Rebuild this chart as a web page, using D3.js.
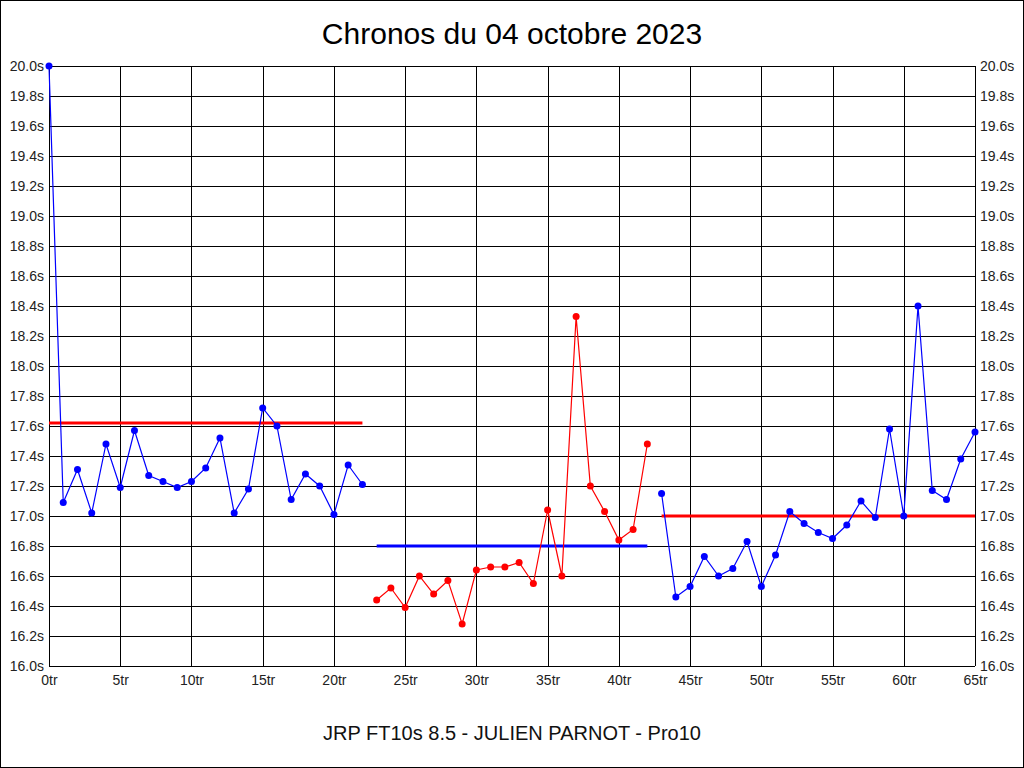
<!DOCTYPE html>
<html><head><meta charset="utf-8">
<script src="https://cdn.jsdelivr.net/npm/d3@7"></script>
<style>body{margin:0;background:#fff}svg{display:block}text{font-family:"Liberation Sans",Arial,sans-serif}</style>
</head><body>
<svg id="c" width="1024" height="768"></svg>
<script>
const title = "Chronos du 04 octobre 2023";
const footer = "JRP FT10s 8.5 - JULIEN PARNOT - Pro10";
const seg1Laps = d3.range(0, 23);
const seg1Times = [20.0,17.09,17.31,17.02,17.48,17.19,17.57,17.27,17.23,17.19,17.23,17.32,17.52,17.02,17.18,17.72,17.60,17.11,17.28,17.20,17.01,17.34,17.21];
const seg2Laps = d3.range(23, 43);
const seg2Times = [16.44,16.52,16.39,16.60,16.48,16.57,16.28,16.64,16.66,16.66,16.69,16.55,17.04,16.60,18.33,17.20,17.03,16.84,16.91,17.48];
const seg3Laps = d3.range(43, 66);
const seg3Times = [17.15,16.46,16.53,16.73,16.60,16.65,16.83,16.53,16.74,17.03,16.95,16.89,16.85,16.94,17.10,16.99,17.58,17.00,18.40,17.17,17.11,17.38,17.56];
const avgLines = [
  {from: 0, to: 22, value: 17.62, color: "#ff0000"},
  {from: 23, to: 42, value: 16.80, color: "#0000ff"},
  {from: 43, to: 65, value: 17.00, color: "#ff0000"}
];
const segments = [
  {laps: seg1Laps, times: seg1Times, color: "#0000ff"},
  {laps: seg2Laps, times: seg2Times, color: "#ff0000"},
  {laps: seg3Laps, times: seg3Times, color: "#0000ff"}
];
const xTicks = d3.range(0, 66, 5);
const yTicks = d3.range(0, 21).map(i => 16 + i * 0.2);

const svg = d3.select("#c");
const L = 49, R = 975, T = 66, B = 666;
const x = d3.scaleLinear().domain([0, 65]).range([L, R]);
const y = d3.scaleLinear().domain([16, 20]).range([B, T]);

svg.append("rect").attr("x", 0.5).attr("y", 0.5).attr("width", 1023).attr("height", 767)
  .attr("fill", "#fff").attr("stroke", "#000");

const grid = svg.append("g").attr("shape-rendering", "crispEdges");
grid.selectAll("line.h").data(yTicks).join("line")
  .attr("x1", L).attr("x2", R).attr("y1", d => Math.round(y(d)) + 0.5).attr("y2", d => Math.round(y(d)) + 0.5)
  .attr("stroke", "#000");
grid.selectAll("line.v").data(xTicks).join("line")
  .attr("y1", T).attr("y2", B).attr("x1", d => Math.round(x(d)) + 0.5).attr("x2", d => Math.round(x(d)) + 0.5)
  .attr("stroke", "#000");

const fmtY = d => d.toFixed(1) + "s";
const yl = svg.append("g").attr("transform", `translate(${L},0)`)
  .call(d3.axisLeft(y).tickValues(yTicks).tickFormat(fmtY).tickSize(0).tickPadding(5));
const yr = svg.append("g").attr("transform", `translate(${R},0)`)
  .call(d3.axisRight(y).tickValues(yTicks).tickFormat(fmtY).tickSize(0).tickPadding(5));
const xb = svg.append("g").attr("transform", `translate(0,${B})`)
  .call(d3.axisBottom(x).tickValues(xTicks).tickFormat(d => d + "tr").tickSize(0).tickPadding(9));
[yl, yr, xb].forEach(g => {
  g.select(".domain").remove();
  g.selectAll("text").attr("font-family", "'Liberation Sans', Arial, sans-serif")
    .attr("font-size", 14).attr("fill", "#222");
});

avgLines.forEach(a => {
  svg.append("line").attr("x1", x(a.from)).attr("x2", x(a.to))
    .attr("y1", y(a.value)).attr("y2", y(a.value))
    .attr("stroke", a.color).attr("stroke-width", 3);
});

const line = d3.line().x(d => x(d[0])).y(d => y(d[1]));
segments.forEach(s => {
  const pts = s.laps.map((l, i) => [l, s.times[i]]);
  svg.append("path").datum(pts).attr("d", line).attr("fill", "none")
    .attr("stroke", s.color).attr("stroke-width", 1.2);
  svg.append("g").selectAll("circle").data(pts).join("circle")
    .attr("cx", d => x(d[0])).attr("cy", d => y(d[1])).attr("r", 3.5).attr("fill", s.color);
});

svg.append("text").attr("x", 512).attr("y", 44).attr("text-anchor", "middle")
  .attr("font-size", 30).attr("fill", "#000").text(title);
svg.append("text").attr("x", 512).attr("y", 740).attr("text-anchor", "middle")
  .attr("font-size", 20).attr("fill", "#111").text(footer);
</script>
</body></html>
